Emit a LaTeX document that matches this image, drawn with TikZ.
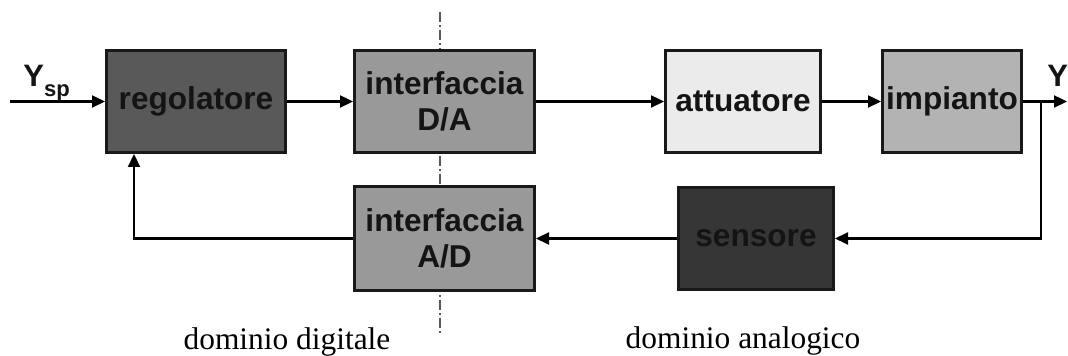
\documentclass[tikz,border=0pt]{standalone}
\usepackage{fontspec}
\setmainfont{Liberation Serif}
\setsansfont{Liberation Sans}
\usetikzlibrary{positioning, arrows.meta}
\definecolor{regfill}{HTML}{595959}
\definecolor{convfill}{HTML}{999999}
\definecolor{attfill}{HTML}{EBEBEB}
\definecolor{impfill}{HTML}{B3B3B3}
\definecolor{senfill}{HTML}{363636}
\definecolor{inktext}{HTML}{141414}

\begin{document}
\begin{tikzpicture}[
    x=0.5pt, y=-0.5pt,
    block/.style={rectangle, draw=black!90, line width=1.5pt, inner sep=0pt,
                  minimum height=51pt, text=inktext, align=center,
                  font=\sffamily\bfseries\fontsize{15.8}{18.3}\selectfont},
    signal/.style={inner sep=0pt, text=inktext, font=\sffamily\bfseries\fontsize{15.5}{18}\selectfont},
    arrow/.style={-{Triangle[length=6.5pt, width=6pt]}, line width=1.1pt},
    divider/.style={draw=black!65, line width=0.6pt, dash pattern=on 5pt off 1.5pt on 1pt off 1.5pt},
    zonelabel/.style={inner sep=0pt, font=\fontsize{15.7}{18}\selectfont}
  ]
  \useasboundingbox (0,0) rectangle (1068,356);
  % confine digitale / analogico
  \draw[divider] (440,12) -- (440,333);

  \node[block, fill=regfill, minimum width=89.5pt] (reg) at (196,101.5) {regolatore};
  \node[block, fill=convfill, minimum width=90pt, right=33pt of reg] (da) {interfaccia\\D/A};
  \node[block, fill=attfill, minimum width=77.5pt, right=64pt of da] (att) {attuatore};
  \node[block, fill=impfill, minimum width=69.5pt, right=29.5pt of att] (imp) {impianto};
  \node[block, fill=convfill, minimum width=90pt, minimum height=52pt, below=15.5pt of da] (ad) {interfaccia\\A/D};
  \node[block, fill=senfill, minimum width=77.5pt, right=70.5pt of ad] (sen) {sensore};

  \coordinate[left=47.5pt of reg] (in);
  \coordinate[right=9pt of imp] (br);
  \coordinate[right=22pt of imp] (out);

  \draw[arrow] (in) -- (reg);
  \draw[arrow] (reg) -- (da);
  \draw[arrow] (da) -- (att);
  \draw[arrow] (att) -- (imp);
  \draw[arrow] (imp) -- (out);
  \draw[arrow] (br) |- (sen);
  \draw[arrow] (sen) -- (ad);
  \draw[arrow] (ad) -| ([xshift=-31pt]reg.south);

  \node[signal, anchor=base west] (ysp) at (23,87)
    {Y\raisebox{-5pt}{\fontsize{11}{12}\selectfont sp}};
  \node[signal, anchor=base west] (yout) at (1047,87) {Y};

  \node[zonelabel, anchor=base] (digit) at (287,350) {dominio digitale};
  \node[zonelabel, anchor=base] (analog) at (743,349) {dominio analogico};
\end{tikzpicture}
\end{document}
